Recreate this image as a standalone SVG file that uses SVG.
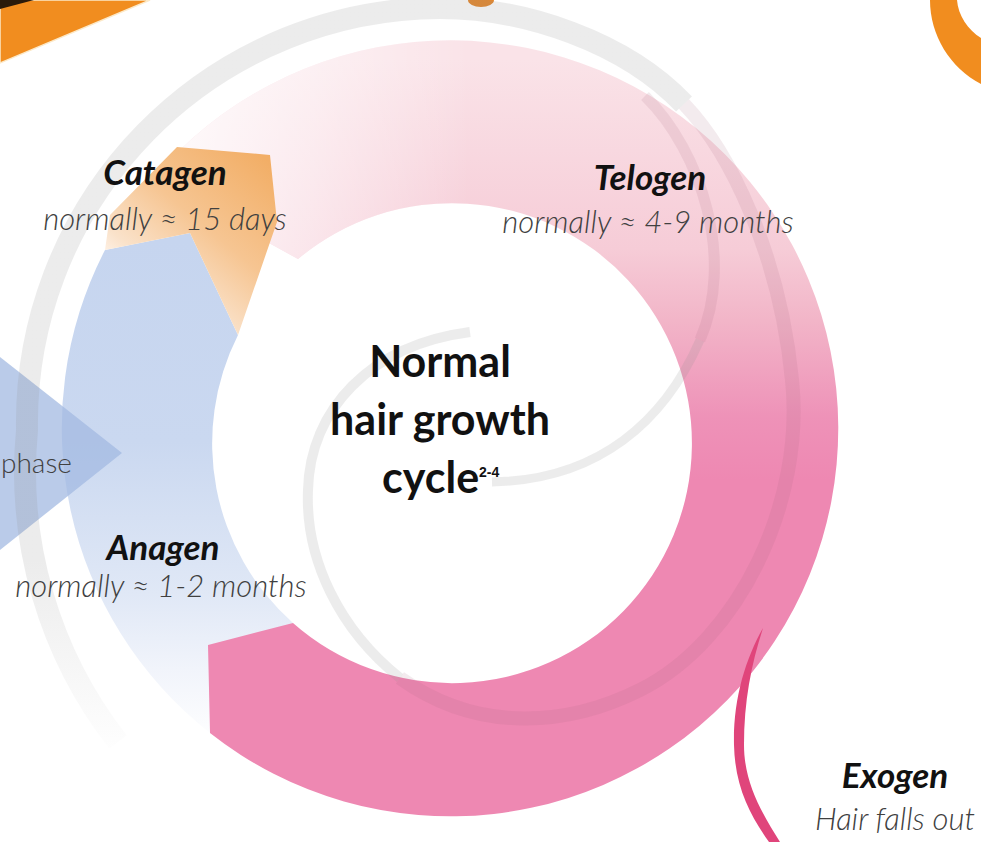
<svg xmlns="http://www.w3.org/2000/svg" width="981" height="842" viewBox="0 0 981 842">
<style>
.lbl{font-family:Lato,"Open Sans","Liberation Sans",sans-serif;font-weight:700;font-style:italic;font-size:35px;fill:#111;text-anchor:middle}
.sub{font-family:Lato,"Open Sans","Liberation Sans",sans-serif;font-weight:300;font-style:italic;font-size:31px;fill:#404040;text-anchor:middle}
.ctr{font-family:Lato,"Open Sans","Liberation Sans",sans-serif;font-weight:700;font-size:43px;fill:#111;text-anchor:middle}
.sup{font-family:"Liberation Sans",Arial,sans-serif;font-weight:700;font-size:14px;fill:#111}
.spiral{fill:none;stroke:#8f8f8f;stroke-opacity:0.17;stroke-linecap:butt}
.stripe{fill:none;stroke:#a06878;stroke-opacity:0.13;stroke-linecap:butt}
.orange{fill:#F18D1F}
</style>
<defs>
<linearGradient id="gPink" gradientUnits="userSpaceOnUse" x1="0" y1="60" x2="0" y2="480">
<stop offset="0" stop-color="#FAE3E8"/>
<stop offset="0.45" stop-color="#F6CCD7"/>
<stop offset="0.62" stop-color="#F2B5C8"/>
<stop offset="0.85" stop-color="#EE92B8"/>
<stop offset="1" stop-color="#EE88B2"/>
</linearGradient>
<linearGradient id="gWhite" gradientUnits="userSpaceOnUse" x1="150" y1="0" x2="470" y2="0">
<stop offset="0" stop-color="#fff" stop-opacity="0.92"/>
<stop offset="0.5" stop-color="#fff" stop-opacity="0.5"/>
<stop offset="1" stop-color="#fff" stop-opacity="0"/>
</linearGradient>
<linearGradient id="gBlue" gradientUnits="userSpaceOnUse" x1="0" y1="240" x2="0" y2="745">
<stop offset="0" stop-color="#C6D5EF"/>
<stop offset="0.4" stop-color="#CAD8F0"/>
<stop offset="0.7" stop-color="#E0E8F6"/>
<stop offset="0.85" stop-color="#F1F4FB"/>
<stop offset="1" stop-color="#FFFFFF"/>
</linearGradient>
<linearGradient id="gOrange" gradientUnits="userSpaceOnUse" x1="268" y1="160" x2="150" y2="300">
<stop offset="0" stop-color="#F2AE66"/>
<stop offset="0.5" stop-color="#F6C592"/>
<stop offset="0.85" stop-color="#FAE2CA"/>
<stop offset="1" stop-color="#FFF6EE"/>
</linearGradient>
<linearGradient id="gFade" gradientUnits="userSpaceOnUse" x1="0" y1="760" x2="0" y2="560">
<stop offset="0" stop-color="#8f8f8f" stop-opacity="0"/>
<stop offset="1" stop-color="#8f8f8f" stop-opacity="0.17"/>
</linearGradient>
<clipPath id="cPink"><path d="M153,179 A388,388 0 1 1 210,733 L208,645 L293,623 A240,240 0 1 0 298,259 Z"/></clipPath>
</defs>
<rect width="981" height="842" fill="#fff"/>

<g id="corner-shapes">
<polygon class="orange" points="0,0 150,0 0,63" stroke="#FCE9C8" stroke-width="1.5"/>
<polygon points="0,0 34,0 0,9" fill="#2a1a0a"/>
<ellipse cx="481" cy="0" rx="13" ry="7" fill="#E4872C"/>
<path class="orange" d="M930,0 C930,35 950,68 981,84 L981,38 C968,30 958,15 957,0 Z"/>
</g>

<g id="anagen-band">
<path d="M105,250 L190,233 L238,335 A240,240 0 0 0 293,623 L210,733 A388,388 0 0 1 105,250 Z" fill="url(#gBlue)"/>
</g>
<g id="telogen-band">
<path d="M153,179 A388,388 0 1 1 210,733 L208,645 L293,623 A240,240 0 1 0 298,259 Z" fill="url(#gPink)"/>
<rect x="0" y="0" width="500" height="330" fill="url(#gWhite)" clip-path="url(#cPink)"/>
</g>
<g id="catagen-band">
<polygon points="177,147 270,155 277,222 238,335 190,233 105,250 110,215" fill="url(#gOrange)"/>
</g>
<g id="phase-arrow">
<polygon points="0,357 122,453 0,550" fill="#A3BAE2" opacity="0.75"/>
</g>

<g id="connectors">
<path fill="none" stroke="url(#gFade)" stroke-width="22" d="M118,742 A440,440 0 0 1 27,430 A415,415 0 0 1 440,8 C525,8 625,42 684,104"/>
<path class="stripe" stroke-width="14" d="M684,104 C730,152 780,255 792,380 C805,500 740,640 640,690 C570,725 480,735 400,678"/>
<path class="spiral" stroke-width="10" d="M400,678 C340,630 305,560 308,490 C310,410 370,345 470,332"/>
<path class="stripe" stroke-width="11" d="M645,96 C702,152 735,260 700,340"/>
<path class="spiral" stroke-width="9" d="M700,340 C665,420 600,480 492,482"/>
<path id="hair" d="M763,628 C745,660 733,700 734,745 C735,787 750,815 769,842 L780,842 C761,812 744,782 744,745 C744,702 751,665 763,628 Z" fill="#E0457B"/>
</g>

<g id="node-catagen">
<text class="lbl" x="165" y="185">Catagen</text>
<text class="sub" x="165" y="230">normally ≈ 15 days</text>
</g>
<g id="node-telogen">
<text class="lbl" x="650" y="190">Telogen</text>
<text class="sub" x="648" y="233">normally ≈ 4-9 months</text>
</g>
<g id="node-anagen">
<text class="lbl" x="163" y="560">Anagen</text>
<text class="sub" x="161" y="597">normally ≈ 1-2 months</text>
</g>
<g id="node-exogen">
<text class="lbl" x="895" y="788">Exogen</text>
<text class="sub" x="895" y="830">Hair falls out</text>
</g>
<g id="node-phase">
<text class="sub" x="1" y="473" style="font-style:normal;text-anchor:start;font-size:28px">phase</text>
</g>
<g id="node-center">
<text class="ctr" x="440" y="377">Normal</text>
<text class="ctr" x="440" y="435">hair growth</text>
<text class="ctr" x="382" y="493" style="text-anchor:start">cycle</text>
<text class="sup" x="479" y="477">2-4</text>
</g>
</svg>
